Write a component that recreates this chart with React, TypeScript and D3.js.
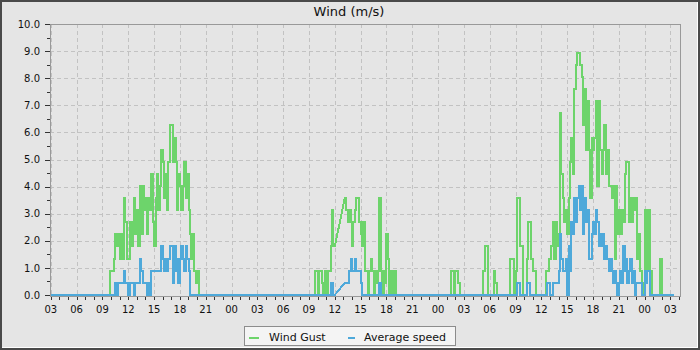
import React from "react";
import * as d3 from "d3";

// ---------- text ----------
const titleText = "Wind (m/s)";
const legendLabels = ["Wind Gust", "Average speed"];
const seriesColors = ["#6dd46b", "#4ea9da"];

// ---------- axes ----------
const yMajorTicks = [0, 1, 2, 3, 4, 5, 6, 7, 8, 9, 10];
const yMinorTicks = [0.5, 1.5, 2.5, 3.5, 4.5, 5.5, 6.5, 7.5, 8.5, 9.5];
const xDomainHours = [2.907, 76.11]; // hours since day 1 00:00
const xFirstTick = 3;
const xLastTick = 76;

// ---------- data (hours since day 1 00:00, samples every 10 min) ----------
const dataStart = 3.08;
const dataEnd = 75.42;

const seg1Start = 9 + 40 / 60;
const seg1Gust = [
  0, 0.89, 0.89, 0.89, 1.34, 2.24, 1.79, 2.24, 1.34, 2.24,
  1.34, 3.58, 2.68, 1.34, 1.34, 2.68, 1.79, 2.68, 3.58, 2.24,
  3.13, 1.79, 4.02, 2.24, 4.02, 3.13, 3.58, 2.24, 3.58, 3.13,
  4.47, 2.68, 1.79, 3.58, 4.47, 3.13, 4.02, 5.36, 4.92, 3.58,
  4.47, 3.13, 4.92, 6.26, 6.26, 4.92, 5.81, 4.92, 3.13, 4.47,
  4.02, 3.13, 4.02, 4.92, 3.58, 4.47, 3.13, 2.24, 1.34, 2.24,
  0.89, 0.45, 0.89, 0,
];
const seg1Avg = [
  0, 0, 0, 0, 0, 0.45, 0, 0.45, 0.45, 0.45,
  0.45, 0.89, 0.45, 0.45, 0, 0.45, 0.45, 0.45, 0, 0.45,
  0.45, 0.45, 1.34, 0.89, 0.45, 0.45, 0.45, 0, 0.45, 0,
  0.89, 0.89, 0.89, 0.89, 0.89, 0.89, 0.89, 1.79, 1.34, 0.89,
  1.34, 0.89, 1.34, 1.79, 1.79, 0.45, 1.79, 0.89, 1.34, 0.45,
  1.34, 1.79, 1.34, 0.89, 1.79, 1.34, 0.89, 0, 0, 0,
  0, 0, 0, 0,
];

const seg2Start = 24 + 9.5;
const seg2Gust = [0, 0.89, 0.89, 0, 0.89, 0.89, 0.45, 0, 0.89, 0, 0.89, 0.89, 1.79, 3.13, 1.79, 1.79];
const seg2Avg = [0, 0, 0, 0, 0, 0, 0, 0, 0, 0, 0, 0, 0.45, 0.45, 0, 0];

const seg3Start = 24 + 13 + 10 / 60;
const seg3Gust = [
  3.58, 3.13, 2.68, 3.13, 2.68, 1.79, 2.68, 3.13, 3.58, 3.58,
  2.68, 2.24, 1.79, 2.68, 0.89, 0.89, 0, 0.89, 1.34, 0.89,
  0, 0.89, 0.45, 0.89, 3.58, 0.89, 0, 0.89, 0.45, 2.24,
  1.34, 0, 0.89, 0, 0.89, 0.89, 0,
];
const seg3Avg = [
  0.45, 0.45, 0.45, 0.89, 1.34, 0.89, 0.89, 1.34, 0.89, 0.89,
  0.89, 0.45, 0, 0, 0, 0, 0, 0, 0, 0,
  0, 0, 0, 0, 0.45, 0, 0, 0, 0, 0,
  0, 0, 0, 0, 0, 0, 0,
];

const seg4Start = 48 + 1 + 20 / 60;
const seg4Gust = [0, 0.89, 0.89, 0, 0.89, 0.89, 0.45, 0];
const seg4Avg = [0, 0, 0, 0, 0, 0, 0, 0];

const seg5Start = 48 + 5;
const seg5Gust = [0, 0.89, 0.89, 1.79, 1.79, 0];
const seg5Avg = [0, 0, 0, 0, 0, 0];

const seg6Start = 48 + 6 + 20 / 60;
const seg6Gust = [0, 0.89, 0.45, 0];
const seg6Avg = [0, 0, 0, 0];

const seg7Start = 48 + 8 + 10 / 60;
const seg7Gust = [0, 1.34, 1.34, 1.34, 0, 0.89, 3.58, 3.58, 1.79, 1.79, 0, 0, 0, 1.34, 2.68, 2.68, 1.34, 0.89, 0.89, 0];
const seg7Avg = [0, 0, 0, 0, 0, 0, 0.45, 0.45, 0, 0, 0, 0, 0, 0.45, 0.45, 0, 0, 0, 0, 0];

const seg8Start = 48 + 12 + 20 / 60;
const seg8Gust = [
  0, 0.89, 0.89, 1.34, 1.34, 1.79, 2.68, 1.34, 2.68, 1.79,
  2.24, 6.71, 4.47, 3.58, 2.68, 3.13, 2.24, 3.58, 4.92, 5.81,
  4.47, 7.6, 8.49, 8.94, 8.94, 8.49, 8.05, 6.26, 7.6, 5.36,
  7.15, 5.36, 3.58, 5.81, 5.36, 5.81, 7.15, 4.02, 7.15, 5.36,
  4.47, 5.36, 6.26, 4.47, 5.36, 4.02, 4.02, 3.58, 4.02, 1.34,
  4.02, 2.24, 3.13, 2.24, 3.13, 2.68, 4.47, 4.92, 4.92, 2.68,
  3.58, 2.68, 3.58, 3.13, 3.58, 1.34, 2.24, 0.89, 0.45, 0,
  3.13, 3.13, 0.89, 3.13, 0.89, 0, 0, 0, 0, 0,
  0, 1.34, 0,
];
const seg8Avg = [
  0, 0, 0.45, 0.45, 0, 0, 0.45, 0.45, 0.45, 0.45,
  0.89, 2.24, 1.34, 0.89, 0.89, 1.34, 0, 1.79, 0.89, 2.68,
  2.24, 3.58, 2.68, 3.58, 4.02, 3.13, 4.02, 2.24, 3.58, 2.68,
  3.13, 1.34, 1.34, 2.24, 2.68, 2.24, 3.13, 2.68, 1.79, 2.24,
  1.79, 2.24, 1.34, 1.79, 1.34, 0.89, 1.34, 0.89, 0.45, 0.89,
  0.45, 0, 0.45, 0.89, 0.45, 1.79, 0.89, 1.34, 0.45, 0.89,
  1.34, 0.45, 0.89, 0, 0.45, 0.45, 0.45, 0.45, 0, 0,
  0.89, 0.45, 0.89, 0.89, 0, 0, 0, 0, 0, 0,
  0, 0, 0,
];

const segmentStarts = [seg1Start, seg2Start, seg3Start, seg4Start, seg5Start, seg6Start, seg7Start, seg8Start];
const segmentGusts = [seg1Gust, seg2Gust, seg3Gust, seg4Gust, seg5Gust, seg6Gust, seg7Gust, seg8Gust];
const segmentAvgs = [seg1Avg, seg2Avg, seg3Avg, seg4Avg, seg5Avg, seg6Avg, seg7Avg, seg8Avg];

type Pt = { t: number; v: number };
const STEP = 1 / 6;

// Within a segment each reading holds until the next one (step);
// between segments (data gaps) the line is drawn straight.
function buildPoints(series: number[][]): Pt[] {
  const pts: Pt[] = [{ t: dataStart, v: 0 }];
  segmentStarts.forEach((s, k) => {
    const vals = series[k];
    vals.forEach((v, i) => {
      const t = s + i * STEP;
      pts.push({ t, v });
      if (i < vals.length - 1) pts.push({ t: t + STEP, v });
    });
  });
  pts.push({ t: dataEnd, v: 0 });
  return pts;
}

const gustPoints = buildPoints(segmentGusts);
const avgPoints = buildPoints(segmentAvgs);

// ---------- layout ----------
const W = 700;
const H = 350;
const plotLeft = 50;
const plotRight = 680;
const plotTop = 24;
const plotBottom = 295;
const FONT = "'DejaVu Sans', Verdana, sans-serif";

export default function App() {
  const x = d3.scaleLinear().domain(xDomainHours).range([plotLeft, plotRight]);
  const y = d3.scaleLinear().domain([0, 10]).range([plotBottom, plotTop]);

  const line = d3
    .line<Pt>()
    .x((d) => x(d.t))
    .y((d) => y(d.v));

  const hourTicks = d3.range(xFirstTick, xLastTick + 1);
  const majorHours = hourTicks.filter((h) => h % 3 === 0);

  return (
    <svg
      width={W}
      height={H}
      style={{ position: "absolute", left: 0, top: 0, display: "block" }}
      fontFamily={FONT}
    >
      <rect x={0} y={0} width={W} height={H} fill="#4a4a4a" />
      <rect x={2} y={2} width={W - 4} height={H - 4} fill="#ffffff" />
      <rect x={2} y={2} width={W - 5} height={H - 5} fill="#e5e5e5" />

      <text x={349} y={16} textAnchor="middle" fontSize={13} fill="#111">
        {titleText}
      </text>

      {/* grid */}
      <g stroke="#c2c2c2" strokeWidth={1} strokeDasharray="4,3" shapeRendering="crispEdges">
        {yMajorTicks
          .filter((v) => v > 0 && v < 10)
          .map((v) => (
            <line key={"gy" + v} x1={plotLeft} x2={plotRight} y1={Math.round(y(v)) + 0.5} y2={Math.round(y(v)) + 0.5} />
          ))}
        {majorHours.map((h) => (
          <line key={"gx" + h} x1={Math.round(x(h)) + 0.5} x2={Math.round(x(h)) + 0.5} y1={plotTop} y2={plotBottom + 1} />
        ))}
      </g>

      {/* data */}
      <path d={line(gustPoints) || ""} fill="none" stroke={seriesColors[0]} strokeWidth={2} shapeRendering="crispEdges" />
      <path d={line(avgPoints) || ""} fill="none" stroke={seriesColors[1]} strokeWidth={2} shapeRendering="crispEdges" />

      {/* frame */}
      <rect
        x={plotLeft + 0.5}
        y={plotTop + 0.5}
        width={plotRight - plotLeft}
        height={plotBottom + 1 - plotTop}
        fill="none"
        stroke="#999"
        shapeRendering="crispEdges"
      />

      {/* ticks */}
      <g stroke="#333" shapeRendering="crispEdges">
        {yMajorTicks.map((v) => (
          <line key={"yt" + v} x1={45} x2={50} y1={Math.round(y(v)) + 0.5} y2={Math.round(y(v)) + 0.5} />
        ))}
        {yMinorTicks.map((v) => (
          <line key={"ym" + v} x1={47} x2={50} y1={Math.round(y(v)) + 0.5} y2={Math.round(y(v)) + 0.5} />
        ))}
        {hourTicks.map((h) => (
          <line key={"xt" + h} x1={Math.round(x(h)) + 0.5} x2={Math.round(x(h)) + 0.5} y1={297} y2={300} />
        ))}
      </g>
      <g fontSize={10} fill="#111">
        {yMajorTicks.map((v) => (
          <text key={"yl" + v} x={40} y={y(v)} dy="0.36em" textAnchor="end">
            {v.toFixed(1)}
          </text>
        ))}
        {majorHours.map((h) => (
          <text key={"xl" + h} x={x(h)} y={312.5} textAnchor="middle">
            {String(h % 24).padStart(2, "0")}
          </text>
        ))}
      </g>

      {/* legend */}
      <rect x={244.5} y={326.5} width={211} height={19} fill="#f4f4f4" stroke="#8c8c8c" shapeRendering="crispEdges" />
      <line x1={249} x2={259} y1={338} y2={338} stroke={seriesColors[0]} strokeWidth={2} shapeRendering="crispEdges" />
      <text x={269} y={341} fontSize={11} fill="#111">
        {legendLabels[0]}
      </text>
      <line x1={348} x2={355} y1={338} y2={338} stroke={seriesColors[1]} strokeWidth={2} shapeRendering="crispEdges" />
      <text x={364} y={341} fontSize={11} fill="#111">
        {legendLabels[1]}
      </text>
    </svg>
  );
}
